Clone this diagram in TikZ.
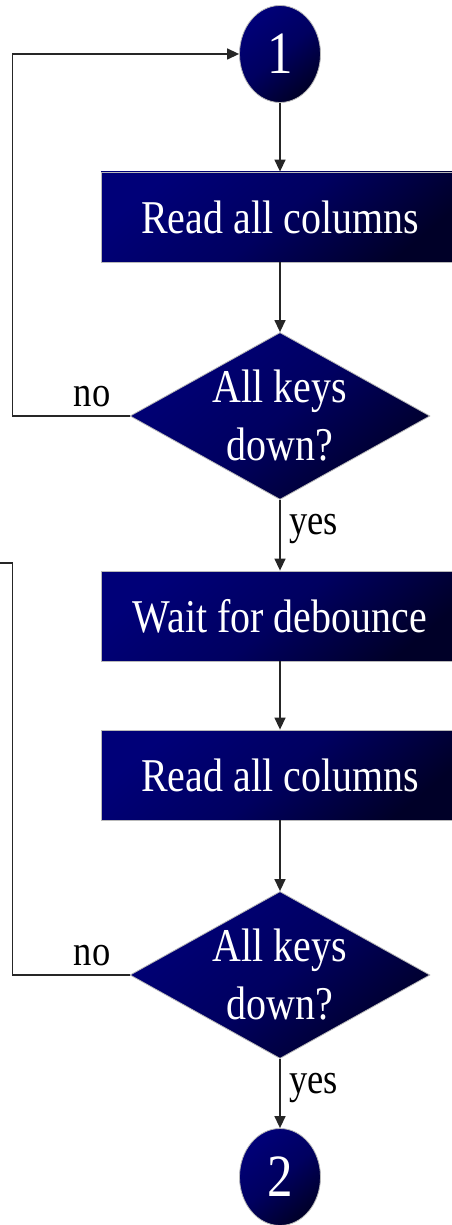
\documentclass[tikz,border=0pt]{standalone}
\usepackage{fontspec}
\setmainfont{Liberation Serif}[FakeStretch=0.85]
\usetikzlibrary{arrows.meta,positioning,shapes.geometric}
\definecolor{navytop}{RGB}{0,0,120}
\definecolor{navymid}{RGB}{0,0,96}
\definecolor{navybot}{RGB}{0,0,40}

\begin{document}
\begin{tikzpicture}[
    x=1pt, y=-1pt,
    navyfill/.style={draw=gray!55, line width=0.8pt, top color=navytop, bottom color=navybot, middle color=navymid, shading angle=40, text=white},
    conn/.style={ellipse, navyfill, minimum width=81pt, minimum height=97pt, inner sep=0pt, font=\fontsize{60}{62}\selectfont},
    proc/.style={rectangle, navyfill, minimum width=358pt, minimum height=90pt, inner sep=0pt, font=\fontsize{47}{58}\selectfont},
    decision/.style={diamond, navyfill, minimum width=300pt, minimum height=167pt, inner sep=0pt},
    dtext/.style={text=white, align=center, font=\fontsize{47}{58}\selectfont},
    lbl/.style={font=\fontsize{43}{46}\selectfont, text=black},
    edge/.style={-{Triangle[length=12pt,width=11pt]}, line width=1.4pt, draw=black!85}
]
\useasboundingbox (0,0) rectangle (452,1225);
\clip (0,0) rectangle (452,1225);

\node[conn] (one) at (280,54) {1};
\node[proc] (readA) at (280,217) {Read all columns};
\node[decision] (keysA) at (280,416) {};
\node[dtext] (keysAt) at (keysA) {All keys\\down?};
\node[proc] (wait) at (280,616) {Wait for debounce};
\node[proc] (readB) at (280,775) {Read all columns};
\node[decision] (keysB) at (280,975) {};
\node[dtext] (keysBt) at (keysB) {All keys\\down?};
\node[conn] (two) at (280,1177) {2};
\coordinate (back) at (0,563);

% main flow
\draw[edge] (one) -- (readA);
\draw[edge] (readA) -- (keysA);
\draw[edge] (keysA) -- node[lbl, right, pos=0.35, xshift=5pt, yshift=-4pt] (yesA) {yes} (wait);
\draw[edge] (wait) -- (readB);
\draw[edge] (readB) -- (keysB);
\draw[edge] (keysB) -- node[lbl, right, pos=0.36, xshift=5pt, yshift=-4pt] (yesB) {yes} (two);

% loop backs
\draw[edge] (keysA.west) -- node[lbl, above, pos=0.32, yshift=5pt] (noA) {no} ++(-117,0) |- (one.west);
\draw[line width=1.4pt, draw=black!85] (keysB.west) -- node[lbl, above, pos=0.32, yshift=5pt] (noB) {no} ++(-117,0) |- (back);
\end{tikzpicture}
\end{document}
